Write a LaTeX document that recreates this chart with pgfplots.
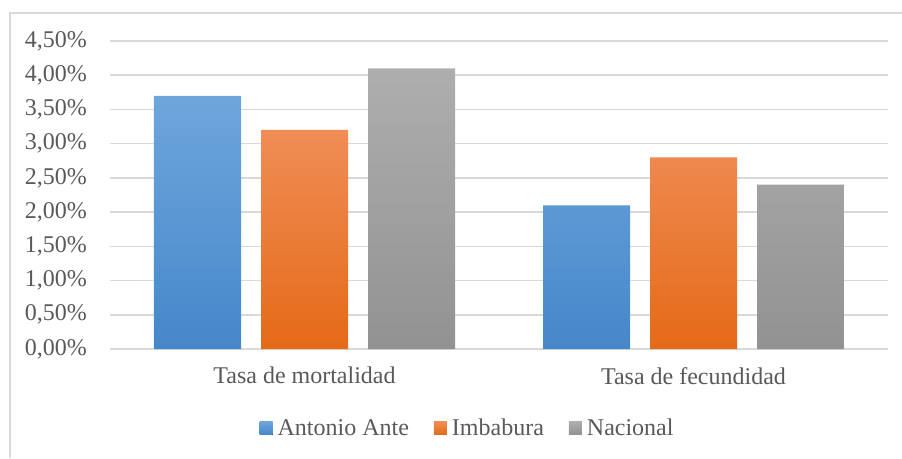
\documentclass[border=0pt]{standalone}
\usepackage{pgfplots}
\pgfplotsset{compat=1.18}
\usepackage{fontspec}
\setmainfont{Liberation Serif}
\definecolor{gridc}{HTML}{D9D9D9}
\definecolor{txt}{HTML}{595959}
\definecolor{bluetop}{HTML}{6FA6DC}
\definecolor{bluebot}{HTML}{4587CA}
\definecolor{orgtop}{HTML}{F08D56}
\definecolor{orgbot}{HTML}{E46A17}
\definecolor{grytop}{HTML}{AEAEAE}
\definecolor{grybot}{HTML}{929292}
\begin{document}
\begin{tikzpicture}
\useasboundingbox (-110pt,-109pt) rectangle (792pt,349pt);
\draw[gridc, line width=1.2pt] (-100pt,-109pt) -- (-100pt,336pt) -- (792pt,336pt);
\begin{axis}[
  scale only axis,
  width=778pt, height=308pt,
  ymin=0, ymax=4.5,
  xmin=-0.5, xmax=1.5,
  ytick={0,0.5,...,4.5},
  yticklabels={{0,00\%},{0,50\%},{1,00\%},{1,50\%},{2,00\%},{2,50\%},{3,00\%},{3,50\%},{4,00\%},{4,50\%}},
  xtick={0,1},
  xticklabels={Tasa de mortalidad, Tasa de fecundidad},
  ymajorgrids,
  grid style={gridc, line width=1.5pt},
  axis x line*=bottom,
  axis y line*=left,
  y axis line style={draw=none},
  x axis line style={gridc, line width=1.8pt, -},
  major tick length=0pt,
  tick style={draw=none},
  ticklabel style={font=\fontsize{24}{28}\selectfont, text=txt},
  yticklabel style={inner sep=0pt, xshift=-23pt},
  xticklabel style={inner sep=0pt, yshift=-18pt},
  ybar=20pt,
  bar width=87pt,
  legend columns=3,
  legend style={draw=none, fill=none, at={(0.459,-0.2565)}, anchor=center,
    font=\fontsize{24}{28}\selectfont, text=txt,
    /tikz/every even column/.append style={column sep=24pt},
    nodes={inner sep=1pt}},
  legend image code/.code={\fill[#1] (0pt,-6.5pt) rectangle (13pt,6.5pt); \path (17pt,0pt);},
]
\addplot[draw=none, top color=bluetop, bottom color=bluebot] coordinates {(0,3.7) (1,2.1)};
\addplot[draw=none, top color=orgtop, bottom color=orgbot] coordinates {(0,3.2) (1,2.8)};
\addplot[draw=none, top color=grytop, bottom color=grybot] coordinates {(0,4.1) (1,2.4)};
\legend{Antonio Ante, Imbabura, Nacional}
\end{axis}
\end{tikzpicture}
\end{document}
